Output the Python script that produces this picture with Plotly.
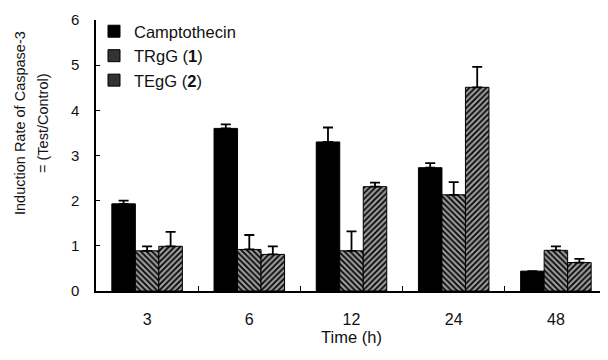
import plotly.graph_objects as go

categories = ["3", "6", "12", "24", "48"]
camptothecin = [1.93, 3.60, 3.30, 2.73, 0.44]
camptothecin_err = [0.07, 0.09, 0.32, 0.10, None]
trgg = [0.89, 0.92, 0.89, 2.13, 0.90]
trgg_err = [0.10, 0.32, 0.43, 0.28, 0.09]
tegg = [0.99, 0.81, 2.31, 4.51, 0.63]
tegg_err = [0.32, 0.18, 0.09, 0.45, 0.08]
y_ticks = [0, 1, 2, 3, 4, 5, 6]
series_names = ["Camptothecin", "TRgG (<b>1</b>)", "TEgG (<b>2</b>)"]
y_title_lines = ["Induction Rate of Caspase-3", "= (Test/Control)"]

font_family = "Liberation Sans, Arial, sans-serif"

def err(vals):
    return dict(type="data", array=vals, arrayminus=[0] * len(vals),
                symmetric=False, color="black", thickness=1.8, width=5)

def pattern(shape):
    return dict(shape=shape, fgcolor="#000000", bgcolor="#9a9a9a",
                size=4, solidity=0.42, fillmode="replace")

fig = go.Figure()
fig.add_trace(go.Bar(
    name=series_names[0], x=categories, y=camptothecin, showlegend=False,
    marker=dict(color="black", line=dict(color="black", width=1)),
    error_y=err(camptothecin_err)))
fig.add_trace(go.Bar(
    name=series_names[1], x=categories, y=trgg, showlegend=False,
    marker=dict(color="#777777", line=dict(color="black", width=1),
                pattern=pattern("\\")),
    error_y=err(trgg_err)))
fig.add_trace(go.Bar(
    name=series_names[2], x=categories, y=tegg, showlegend=False,
    marker=dict(color="#777777", line=dict(color="black", width=1),
                pattern=pattern("/")),
    error_y=err(tegg_err)))

# legend entries as small squares
for name, col in zip(series_names, ["#000000", "#333333", "#333333"]):
    fig.add_trace(go.Scatter(
        x=[None], y=[None], mode="markers", name=name,
        marker=dict(symbol="square", size=12, color=col,
                    line=dict(color="black", width=1))))

# page has an 8px body margin: figure spans 8..608 x 8..360
plot_left, plot_w = 96, 511
plot_bottom, plot_h = 291, 271

def px_x(p):
    return (p - plot_left) / plot_w

def px_y(p):
    return (plot_bottom - p) / plot_h

annotations = [
    dict(text=y_title_lines[0], xref="paper", yref="paper",
         x=px_x(20), y=px_y(123), xanchor="center", yanchor="middle",
         textangle=-90, showarrow=False, font=dict(size=14.5)),
    dict(text=y_title_lines[1], xref="paper", yref="paper",
         x=px_x(43), y=px_y(123), xanchor="center", yanchor="middle",
         textangle=-90, showarrow=False, font=dict(size=14.5)),
]

fig.update_layout(
    width=600, height=352,
    margin=dict(l=88, r=1, t=12, b=69),
    paper_bgcolor="white", plot_bgcolor="white",
    barmode="group", bargap=0.31, bargroupgap=0,
    font=dict(family=font_family, size=14, color="#111111"),
    showlegend=True,
    legend=dict(x=px_x(94), y=px_y(14), xanchor="left", yanchor="top",
                bgcolor="rgba(0,0,0,0)", font=dict(size=16.5),
                itemwidth=30, tracegroupgap=0),
    annotations=annotations,
    xaxis=dict(
        title=dict(text="Time (h)", font=dict(size=16.5), standoff=2),
        showline=True, linecolor="black", linewidth=1.5,
        ticks="inside", tickson="boundaries", ticklen=5, tickcolor="black",
        ticklabelstandoff=13, showgrid=False, zeroline=False,
        automargin=False, tickfont=dict(size=16)),
    yaxis=dict(
        range=[0, 6], tickvals=y_ticks, ticktext=[str(v) for v in y_ticks],
        showline=True, linecolor="black", linewidth=1.5,
        ticks="inside", ticklen=4, tickcolor="black",
        ticklabelstandoff=12,
        showgrid=False, zeroline=False, automargin=False,
        tickfont=dict(size=15)),
)

fig.write_html("out.html")
